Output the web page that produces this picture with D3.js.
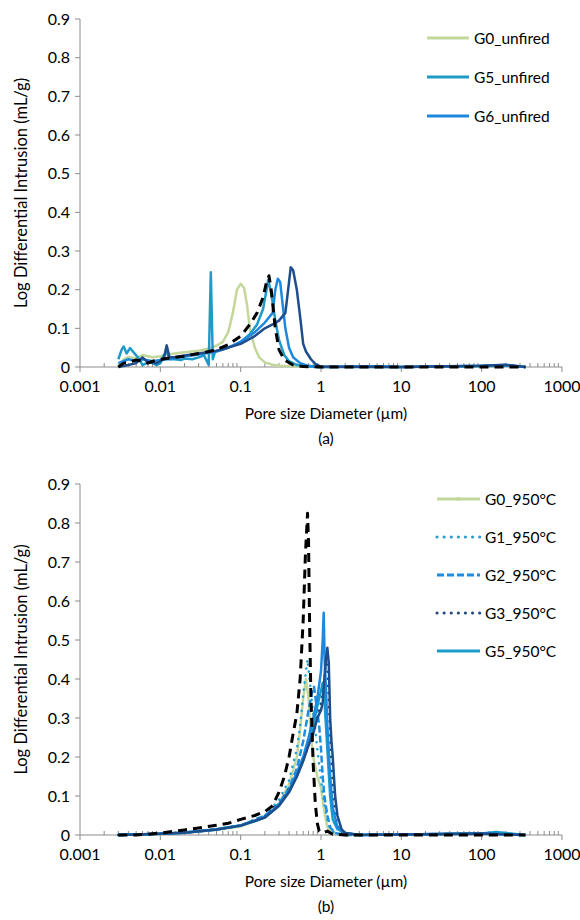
<!DOCTYPE html>
<html>
<head>
<meta charset="utf-8">
<script src="https://cdn.jsdelivr.net/npm/d3@7"></script>
<style>
  body { margin: 0; background: #fff; }
  text { font-family: Lato, "Open Sans", sans-serif; fill: #000; }
</style>
</head>
<body>
<script>
// ---- data: [pore diameter (um), log differential intrusion (mL/g)] ----
var xTicks = [0.001, 0.01, 0.1, 1, 10, 100, 1000];
var yTicks = [0, 0.1, 0.2, 0.3, 0.4, 0.5, 0.6, 0.7, 0.8, 0.9];

// (a) unfired
var g0Unfired = [[0.003,0.005],[0.0035,0.02],[0.004,0.026],[0.005,0.022],[0.006,0.031],[0.007,0.028],[0.008,0.025],[0.01,0.028],[0.012,0.032],[0.015,0.035],[0.02,0.038],[0.03,0.042],[0.04,0.048],[0.05,0.055],[0.06,0.065],[0.07,0.09],[0.08,0.14],[0.09,0.2],[0.1,0.215],[0.11,0.205],[0.12,0.16],[0.13,0.1],[0.15,0.05],[0.17,0.025],[0.2,0.012],[0.25,0.006],[0.3,0.003],[0.4,0.002],[0.6,0.001],[1,0],[10,0],[100,0.002],[200,0.004],[350,0]];
var g5Unfired = [[0.003,0.02],[0.0033,0.045],[0.0035,0.053],[0.0038,0.035],[0.0042,0.049],[0.005,0.03],[0.0055,0.02],[0.006,0.005],[0.007,0.012],[0.008,0.01],[0.009,0.005],[0.01,0.01],[0.011,0.03],[0.012,0.04],[0.013,0.02],[0.015,0.02],[0.018,0.018],[0.02,0.022],[0.025,0.02],[0.03,0.025],[0.035,0.03],[0.04,0.005],[0.0425,0.245],[0.045,0.02],[0.048,0.04],[0.06,0.045],[0.08,0.055],[0.1,0.065],[0.13,0.085],[0.16,0.11],[0.19,0.15],[0.21,0.2],[0.22,0.225],[0.24,0.19],[0.27,0.12],[0.3,0.07],[0.35,0.03],[0.4,0.015],[0.5,0.005],[0.7,0.001],[1,0],[10,0],[100,0.002],[200,0.004],[350,0]];
var g6Unfired = [[0.003,0.01],[0.004,0.02],[0.005,0.015],[0.006,0.02],[0.008,0.015],[0.01,0.018],[0.015,0.022],[0.02,0.028],[0.03,0.032],[0.05,0.04],[0.07,0.05],[0.1,0.065],[0.15,0.09],[0.2,0.115],[0.25,0.14],[0.27,0.2],[0.29,0.228],[0.31,0.22],[0.33,0.17],[0.36,0.1],[0.4,0.05],[0.45,0.025],[0.55,0.01],[0.7,0.003],[0.9,0],[5,0.002],[10,0],[100,0.003],[200,0.005],[350,0]];
var g3Unfired = [[0.003,0],[0.004,0.005],[0.005,0.01],[0.006,0.025],[0.007,0.012],[0.009,0.01],[0.011,0.02],[0.012,0.056],[0.013,0.025],[0.015,0.025],[0.02,0.03],[0.03,0.035],[0.05,0.042],[0.07,0.05],[0.1,0.06],[0.15,0.08],[0.2,0.1],[0.25,0.11],[0.3,0.12],[0.36,0.14],[0.39,0.2],[0.42,0.258],[0.45,0.25],[0.5,0.2],[0.55,0.13],[0.6,0.06],[0.65,0.04],[0.75,0.02],[0.85,0.008],[1,0.001],[10,0],[100,0.003],[200,0.006],[350,0]];
var g1Unfired = [[0.003,0],[0.0035,0.01],[0.004,0.012],[0.005,0.018],[0.006,0.015],[0.007,0.01],[0.008,0.015],[0.01,0.02],[0.015,0.025],[0.02,0.028],[0.03,0.035],[0.04,0.04],[0.05,0.045],[0.07,0.058],[0.1,0.08],[0.13,0.11],[0.16,0.14],[0.19,0.18],[0.21,0.22],[0.225,0.236],[0.24,0.2],[0.27,0.1],[0.3,0.045],[0.35,0.018],[0.45,0.005],[0.6,0.001],[1,0],[350,0]];

// (b) fired at 950 C
var g0Fired = [[0.003,0],[0.01,0.002],[0.02,0.006],[0.05,0.013],[0.1,0.022],[0.2,0.045],[0.3,0.08],[0.4,0.13],[0.5,0.2],[0.55,0.27],[0.6,0.35],[0.65,0.4],[0.7,0.35],[0.75,0.25],[0.8,0.2],[0.9,0.15],[1,0.12],[1.1,0.06],[1.2,0.02],[1.4,0.005],[2,0],[100,0.003],[350,0]];
var g1Fired = [[0.003,0],[0.01,0.003],[0.02,0.007],[0.05,0.015],[0.1,0.025],[0.2,0.05],[0.3,0.09],[0.4,0.14],[0.5,0.22],[0.55,0.28],[0.6,0.36],[0.65,0.42],[0.68,0.45],[0.72,0.4],[0.78,0.33],[0.85,0.27],[0.9,0.22],[1,0.14],[1.1,0.08],[1.2,0.04],[1.3,0.015],[1.5,0.005],[2,0],[100,0.004],[150,0.008],[200,0.004],[350,0]];
var g2Fired = [[0.003,0],[0.01,0.003],[0.02,0.006],[0.05,0.014],[0.1,0.024],[0.2,0.05],[0.3,0.08],[0.4,0.12],[0.5,0.17],[0.6,0.24],[0.7,0.32],[0.78,0.37],[0.82,0.38],[0.88,0.33],[0.95,0.28],[1,0.22],[1.05,0.15],[1.1,0.1],[1.2,0.05],[1.3,0.02],[1.5,0.005],[2,0],[100,0.003],[350,0]];
var g3Fired = [[0.003,0],[0.01,0.003],[0.02,0.006],[0.05,0.014],[0.1,0.024],[0.2,0.048],[0.3,0.08],[0.5,0.15],[0.7,0.23],[0.9,0.3],[1,0.34],[1.1,0.4],[1.17,0.45],[1.22,0.4],[1.3,0.25],[1.4,0.12],[1.5,0.05],[1.7,0.01],[2,0],[100,0.003],[350,0]];
var g5Fired = [[0.003,0],[0.01,0.003],[0.02,0.006],[0.05,0.015],[0.1,0.025],[0.15,0.035],[0.2,0.045],[0.3,0.075],[0.4,0.11],[0.5,0.15],[0.6,0.19],[0.7,0.24],[0.8,0.28],[0.9,0.33],[1,0.37],[1.05,0.39],[1.1,0.35],[1.2,0.22],[1.3,0.1],[1.4,0.04],[1.6,0.015],[2,0.005],[3,0],[100,0.004],[150,0.008],[200,0.005],[350,0]];
var g6Fired = [[0.003,0],[0.01,0.003],[0.02,0.006],[0.05,0.014],[0.1,0.024],[0.2,0.046],[0.3,0.078],[0.4,0.115],[0.5,0.16],[0.6,0.2],[0.7,0.25],[0.8,0.3],[0.9,0.35],[1,0.42],[1.05,0.5],[1.08,0.57],[1.11,0.45],[1.15,0.38],[1.2,0.28],[1.3,0.15],[1.4,0.07],[1.6,0.02],[2,0.005],[3,0],[100,0.004],[350,0]];
var g4Fired = [[0.003,0],[0.01,0.003],[0.02,0.006],[0.05,0.014],[0.1,0.024],[0.2,0.045],[0.3,0.075],[0.4,0.11],[0.5,0.15],[0.6,0.19],[0.7,0.23],[0.8,0.26],[0.9,0.3],[1,0.32],[1.05,0.34],[1.1,0.4],[1.15,0.45],[1.2,0.48],[1.25,0.44],[1.3,0.3],[1.35,0.24],[1.4,0.2],[1.5,0.1],[1.6,0.05],[1.8,0.015],[2,0.005],[3,0],[100,0.004],[350,0]];
var g7Fired = [[0.003,0],[0.005,0],[0.007,0.002],[0.01,0.005],[0.015,0.01],[0.02,0.013],[0.03,0.018],[0.05,0.025],[0.07,0.03],[0.1,0.04],[0.15,0.05],[0.2,0.06],[0.25,0.075],[0.3,0.11],[0.35,0.15],[0.4,0.2],[0.45,0.26],[0.5,0.31],[0.55,0.4],[0.6,0.55],[0.64,0.72],[0.68,0.825],[0.7,0.75],[0.72,0.55],[0.75,0.35],[0.8,0.18],[0.85,0.08],[0.9,0.03],[0.95,0.01],[1.05,0.005],[1.2,0.01],[1.4,0.002],[2,0],[20,0],[350,0]];

// series styling tables (draw order = back to front)
var seriesA = [
  {name: "G0_unfired", data: g0Unfired, color: "#c4d79b", dash: null, legend: true},
  {name: "G5_unfired", data: g5Unfired, color: "#1f9bc7", dash: null, legend: true},
  {name: "G6_unfired", data: g6Unfired, color: "#1d88df", dash: null, legend: true},
  {name: "G3_unfired", data: g3Unfired, color: "#1f4e8c", dash: null, legend: false},
  {name: "G1_unfired", data: g1Unfired, color: "#000000", dash: "9,6", legend: false}
];
var seriesB = [
  {name: "G0_950°C", data: g0Fired, color: "#c4d79b", dash: null, legend: true, marker: true},
  {name: "G1_950°C", data: g1Fired, color: "#1fa0d0", dash: "0.1,7", legend: true},
  {name: "G2_950°C", data: g2Fired, color: "#1d8ce2", dash: "7,3", legend: true},
  {name: "G3_950°C", data: g3Fired, color: "#1f497d", dash: "0.1,7", legend: true},
  {name: "G5_950°C", data: g5Fired, color: "#1a9bc9", dash: null, legend: true},
  {name: "G6_950°C", data: g6Fired, color: "#1d88df", dash: null, legend: false},
  {name: "G4_950°C", data: g4Fired, color: "#1f4e8c", dash: null, legend: false},
  {name: "G7_950°C", data: g7Fired, color: "#000000", dash: "9,6", legend: false}
];

var svg = d3.select("body").append("svg")
    .attr("width", 580)
    .attr("height", 920);

function drawChart(series, top, bottom, label, legendX, legendY, legendGap, lineLen) {
  var left = 80, right = 562;
  var x = d3.scaleLog().domain([0.001, 1000]).range([left, right]);
  var y = d3.scaleLinear().domain([0, 0.9]).range([bottom, top]);
  var g = svg.append("g");

  // y axis
  g.append("line")
    .attr("x1", left).attr("x2", left)
    .attr("y1", y(0)).attr("y2", y(0.9))
    .attr("stroke", "#8c8c8c");
  g.selectAll(".ytick").data(yTicks).enter().append("line")
    .attr("x1", left - 5).attr("x2", left)
    .attr("y1", function (d) { return y(d); })
    .attr("y2", function (d) { return y(d); })
    .attr("stroke", "#8c8c8c");
  g.selectAll(".ylab").data(yTicks).enter().append("text")
    .attr("x", left - 10)
    .attr("y", function (d) { return y(d) + 5.5; })
    .attr("text-anchor", "end")
    .style("font-size", "16px")
    .text(function (d) { return d === 0 ? "0" : d3.format(".1f")(d); });

  // x axis (log) with minor ticks
  g.append("line")
    .attr("x1", left).attr("x2", right)
    .attr("y1", y(0)).attr("y2", y(0))
    .attr("stroke", "#8c8c8c");
  var minor = [];
  xTicks.slice(0, -1).forEach(function (t) {
    for (var k = 2; k <= 9; k++) minor.push(t * k);
  });
  g.selectAll(".xminor").data(minor).enter().append("line")
    .attr("x1", function (d) { return x(d); })
    .attr("x2", function (d) { return x(d); })
    .attr("y1", y(0) - 4).attr("y2", y(0))
    .attr("stroke", "#8c8c8c");
  g.selectAll(".xtick").data(xTicks).enter().append("line")
    .attr("x1", function (d) { return x(d); })
    .attr("x2", function (d) { return x(d); })
    .attr("y1", y(0)).attr("y2", y(0) + 5)
    .attr("stroke", "#8c8c8c");
  g.selectAll(".xlab").data(xTicks).enter().append("text")
    .attr("x", function (d) { return x(d); })
    .attr("y", y(0) + 25)
    .attr("text-anchor", "middle")
    .style("font-size", "16px")
    .text(function (d) { return d < 1 ? String(d) : d3.format("d")(d); });

  // titles
  g.append("text")
    .attr("x", (left + right) / 2 + 5)
    .attr("y", y(0) + 52)
    .attr("text-anchor", "middle")
    .style("font-size", "15.5px")
    .text("Pore size Diameter (µm)");
  g.append("text")
    .attr("x", (left + right) / 2 + 5)
    .attr("y", y(0) + 77)
    .attr("text-anchor", "middle")
    .style("font-size", "15.5px")
    .text(label);
  g.append("text")
    .attr("transform", "translate(27," + (top + bottom) / 2 + ") rotate(-90)")
    .attr("text-anchor", "middle")
    .style("font-size", "16.5px")
    .text("Log Differential Intrusion (mL/g)");

  // lines
  var line = d3.line()
    .x(function (d) { return x(d[0]); })
    .y(function (d) { return y(d[1]); });
  series.forEach(function (s) {
    g.append("path")
      .datum(s.data)
      .attr("d", line)
      .attr("fill", "none")
      .attr("stroke", s.color)
      .attr("stroke-width", s.dash === "9,6" ? 3 : 2.5)
      .attr("stroke-linejoin", "round")
      .attr("stroke-linecap", s.dash === "0.1,7" ? "round" : "butt")
      .attr("stroke-dasharray", s.dash);
  });

  // legend
  var items = series.filter(function (s) { return s.legend; });
  var lg = g.selectAll(".legend").data(items).enter().append("g")
    .attr("transform", function (d, i) {
      return "translate(" + legendX + "," + (legendY + legendGap * i) + ")";
    });
  lg.append("line")
    .attr("x1", 0).attr("x2", lineLen)
    .attr("stroke", function (d) { return d.color; })
    .attr("stroke-width", 3)
    .attr("stroke-linecap", function (d) { return d.dash === "0.1,7" ? "round" : "butt"; })
    .attr("stroke-dasharray", function (d) { return d.dash; });
  lg.filter(function (d) { return d.marker; }).append("circle")
    .attr("cx", lineLen / 2).attr("r", 2)
    .attr("fill", function (d) { return d.color; });
  lg.append("text")
    .attr("x", lineLen + 5)
    .attr("y", 5.5)
    .style("font-size", "15.5px")
    .text(function (d) { return d.name; });
}

drawChart(seriesA, 19, 367, "(a)", 427, 38, 39, 42);
drawChart(seriesB, 484, 835, "(b)", 437, 499, 38, 43);
</script>
</body>
</html>
